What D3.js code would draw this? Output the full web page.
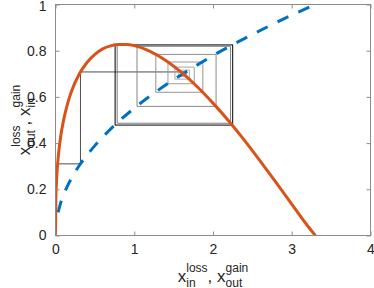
<!DOCTYPE html>
<html><head><meta charset="utf-8">
<script src="https://cdn.jsdelivr.net/npm/d3@7"></script>
<style>
html,body{margin:0;padding:0;background:#fff;}
svg{display:block;}
text{font-family:"Liberation Sans",Arial,Helvetica,sans-serif;}
</style></head>
<body>
<svg id="c" width="374" height="288"></svg>
<script>
// ---- data ----
const xTicks = [0, 1, 2, 3, 4];
const yTicks = [0, 0.2, 0.4, 0.6, 0.8, 1];
const xTickLabels = ["0", "1", "2", "3", "4"];
const yTickLabels = ["0", "0.2", "0.4", "0.6", "0.8", "1"];

// loss curve (orange, solid)
const lossX = [0, 0.005, 0.01, 0.02, 0.04, 0.07, 0.1, 0.15, 0.2, 0.3, 0.4, 0.5, 0.6, 0.7, 0.8, 0.9, 1.0, 1.2, 1.4, 1.6, 1.8, 2.0, 2.2, 2.4, 2.6, 2.8, 3.0, 3.2, 3.3];
const lossY = [0, 0.166, 0.214, 0.277, 0.358, 0.438, 0.495, 0.567, 0.621, 0.698, 0.749, 0.784, 0.808, 0.821, 0.827, 0.827, 0.822, 0.797, 0.758, 0.706, 0.644, 0.573, 0.496, 0.412, 0.322, 0.230, 0.136, 0.042, 0];

// gain curve (blue, dashed)
const gainX = [0.033, 0.06, 0.1, 0.15, 0.2, 0.3, 0.4, 0.5, 0.75, 1.0, 1.25, 1.5, 1.75, 2.0, 2.25, 2.5, 2.75, 3.0, 3.3];
const gainY = [0.100, 0.135, 0.174, 0.213, 0.246, 0.302, 0.348, 0.389, 0.477, 0.551, 0.616, 0.674, 0.728, 0.779, 0.826, 0.870, 0.913, 0.954, 1.0];

// cobweb iteration: x values visited and the levels reached
const orbitX = [0.027, 0.317, 1.662, 1.564, 1.700, 1.516, 1.762, 1.428, 1.871, 1.274, 2.039, 1.035, 2.223, 0.783];
const orbitY = [0.310, 0.708, 0.688, 0.716, 0.677, 0.729, 0.657, 0.751, 0.620, 0.784, 0.559, 0.819, 0.486, 0.826];

// limiting 2-cycle (black box)
const cycleX = [0.757, 2.25];
const cycleY = [0.478, 0.825];

// ---- drawing ----
const svg = d3.select("#c");
const L = 55.5, R = 370.5, T = 4.5, B = 235.5;
const x = d3.scaleLinear().domain([0, 4]).range([L, R]);
const y = d3.scaleLinear().domain([0, 1]).range([B, T]);

const plot = svg.append("g");
plot.append("defs").append("clipPath").attr("id", "clip")
  .append("rect").attr("x", L).attr("y", T).attr("width", R - L).attr("height", B - T);

// cobweb segments
const segs = [];
let cx = orbitX[0], cy = orbitY[0];
for (let i = 1; i < orbitX.length; i++) {
  segs.push([[cx, cy], [orbitX[i], cy]]);
  cx = orbitX[i];
  if (i < orbitY.length) {
    segs.push([[cx, cy], [cx, orbitY[i]]]);
    cy = orbitY[i];
  }
}
const nS = segs.length;
const segColor = d3.scaleLinear().domain([0, 2, 3, nS - 1])
  .range(["#4d4d4d", "#4d4d4d", "#b8b8b8", "#7a7a7a"]);
const cob = plot.append("g").attr("clip-path", "url(#clip)");
cob.selectAll("line").data(segs).join("line")
  .attr("x1", d => x(d[0][0])).attr("y1", d => y(d[0][1]))
  .attr("x2", d => x(d[1][0])).attr("y2", d => y(d[1][1]))
  .attr("stroke", (d, i) => segColor(i)).attr("stroke-width", 1);
cob.append("rect")
  .attr("x", x(cycleX[0])).attr("y", y(cycleY[1]))
  .attr("width", x(cycleX[1]) - x(cycleX[0])).attr("height", y(cycleY[0]) - y(cycleY[1]))
  .attr("fill", "none").attr("stroke", "#000").attr("stroke-width", 1);

const line = d3.line().x(d => x(d[0])).y(d => y(d[1])).curve(d3.curveMonotoneX);
plot.append("path").datum(gainX.map((v, i) => [v, gainY[i]]))
  .attr("d", line).attr("fill", "none").attr("stroke", "#0072BD")
  .attr("stroke-width", 3).attr("stroke-dasharray", "12,11").attr("clip-path", "url(#clip)");
plot.append("path").datum(lossX.map((v, i) => [v, lossY[i]]))
  .attr("d", line).attr("fill", "none").attr("stroke", "#D95319")
  .attr("stroke-width", 3).attr("clip-path", "url(#clip)");

// axes box
const axCol = "#8c8c8c";
const tl = 4;
const ax = svg.append("g");
ax.append("rect").attr("x", L).attr("y", T).attr("width", R - L).attr("height", B - T)
  .attr("fill", "none").attr("stroke", axCol).attr("stroke-width", 1);
const xa = d3.axisBottom(x).tickValues(xTicks).tickFormat((d, i) => xTickLabels[i]).tickSizeInner(-tl).tickSizeOuter(0).tickPadding(9);
const ya = d3.axisLeft(y).tickValues(yTicks).tickFormat((d, i) => yTickLabels[i]).tickSizeInner(-tl).tickSizeOuter(0).tickPadding(9);
const gx = ax.append("g").attr("transform", `translate(0,${B})`).call(xa);
const gy = ax.append("g").attr("transform", `translate(${L},0)`).call(ya);
const gx2 = ax.append("g").attr("transform", `translate(0,${T})`).call(d3.axisTop(x).tickValues(xTicks).tickFormat("").tickSizeInner(-tl).tickSizeOuter(0));
const gy2 = ax.append("g").attr("transform", `translate(${R},0)`).call(d3.axisRight(y).tickValues(yTicks).tickFormat("").tickSizeInner(-tl).tickSizeOuter(0));
[gx, gy, gx2, gy2].forEach(g => {
  g.select(".domain").remove();
  g.selectAll(".tick line").attr("stroke", axCol);
  g.selectAll(".tick text").attr("fill", "#262626").attr("font-size", 14)
    .attr("font-family", '"Liberation Sans",Arial,sans-serif');
});
gx.selectAll(".tick text").attr("dy", "0.71em");
gy.selectAll(".tick text").filter(d => d === 1).attr("dy", "0.42em");

// rich labels: base with stacked super/subscripts
function rich(g, parts, mainSize, scriptSize, supShift, subShift) {
  let cur = 0;
  parts.forEach(p => {
    const b = g.append("text").attr("x", cur).attr("y", 0).attr("font-size", mainSize)
      .attr("fill", "#262626").text(p.base);
    cur += b.node().getComputedTextLength();
    const sp = g.append("text").attr("x", cur).attr("y", -supShift).attr("font-size", scriptSize)
      .attr("fill", "#262626").text(p.sup);
    const sb = g.append("text").attr("x", cur).attr("y", subShift).attr("font-size", scriptSize)
      .attr("fill", "#262626").text(p.sub);
    cur += Math.max(sp.node().getComputedTextLength(), sb.node().getComputedTextLength());
  });
  g.selectAll("text").attr("x", function() { return +d3.select(this).attr("x") - cur / 2; });
}
const xl = svg.append("g").attr("transform", `translate(${(L + R) / 2},281.5)`);
rich(xl, [{base: "x", sup: "loss", sub: "in"}, {base: ", x", sup: "gain", sub: "out"}], 17, 12, 10, 5);
const yl = svg.append("g").attr("transform", `translate(30,${(T + B) / 2}) rotate(-90)`);
rich(yl, [{base: "x", sup: "loss", sub: "out"}, {base: ", x", sup: "gain", sub: "in"}], 17, 12, 10, 5);
</script>
</body></html>
